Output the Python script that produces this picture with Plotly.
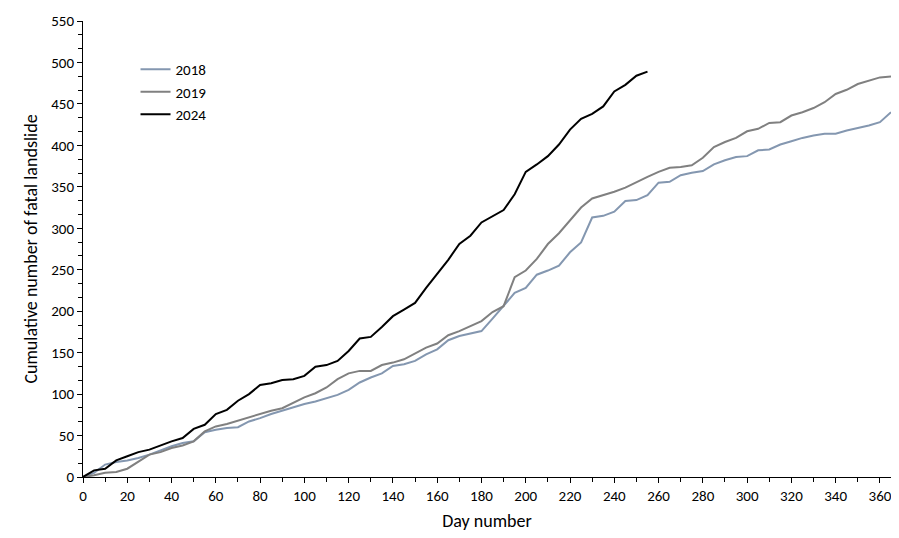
import plotly.graph_objects as go

days = list(range(0, 370, 5))
y2018 = [0,5,15,18,20,23,27,32,37,41,43,54,57,59,60,67,71,76,80,84,88,91,95,99,105,114,120,125,134,136,140,148,154,165,170,173,176,191,206,222,228,244,249,255,271,283,313,315,320,333,334,340,355,356,364,367,369,377,382,386,387,394,395,401,405,409,412,414,414,418,421,424,428,440]
y2019 = [0,2,5,6,10,18,27,30,35,38,43,55,61,64,68,72,76,80,83,90,96,101,108,118,125,128,128,135,138,142,149,156,161,171,176,182,188,199,206,241,249,263,281,294,309,325,336,340,344,349,356,362,368,373,374,376,385,398,404,409,417,420,427,428,436,440,445,452,462,467,474,478,482,483]
days2024 = list(range(0, 260, 5))
y2024 = [0,8,10,20,25,30,33,38,43,47,58,63,76,81,92,100,111,113,117,118,122,133,135,140,152,167,169,181,194,202,210,228,245,262,281,291,307,314,322,341,368,377,387,401,419,432,438,447,465,473,484,489]

fig = go.Figure()
fig.add_trace(go.Scatter(x=days, y=y2018, mode="lines", name="2018", line=dict(color="#8497b0", width=2)))
fig.add_trace(go.Scatter(x=days, y=y2019, mode="lines", name="2019", line=dict(color="#808080", width=2)))
fig.add_trace(go.Scatter(x=days2024, y=y2024, mode="lines", name="2024", line=dict(color="#000000", width=2)))

font = "Carlito, Liberation Sans Narrow, Open Sans, sans-serif"
fig.update_layout(
    width=899, height=538, plot_bgcolor="white", paper_bgcolor="white",
    margin=dict(l=75, r=16, t=13, b=69, autoexpand=False),
    font=dict(family=font, size=15, color="#000"),
    legend=dict(x=0.065, y=0.93, xanchor="left", yanchor="top", bgcolor="rgba(0,0,0,0)",
                font=dict(size=15), tracegroupgap=0),
    showlegend=True,
)
fig.update_xaxes(range=[0, 365], dtick=20, tick0=0, showgrid=False, zeroline=False, automargin=False,
                 showline=True, linecolor="black", linewidth=1, ticks="outside", ticklen=5,
                 tickcolor="black", minor=dict(ticks="outside", dtick=10, ticklen=4, tickcolor="black"),
                 title=dict(text="Day number", standoff=10))
fig.update_yaxes(range=[0, 550], dtick=50, showgrid=False, zeroline=False, automargin=False,
                 showline=True, linecolor="black", linewidth=1, ticks="outside", ticklen=5,
                 tickcolor="black", minor=dict(ticks="outside", dtick=50/3, ticklen=4, tickcolor="black"),
                 title=dict(text="Cumulative number of fatal landslide", standoff=8))
fig.write_html("out.html")
